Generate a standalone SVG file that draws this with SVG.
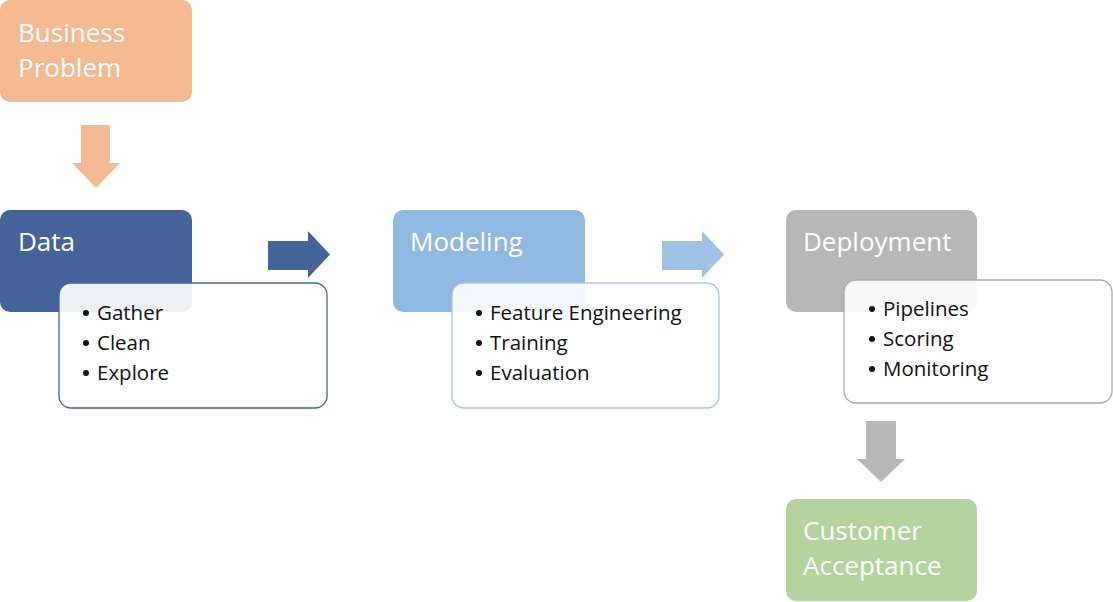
<svg xmlns="http://www.w3.org/2000/svg" width="1113" height="602" viewBox="0 0 1113 602">
<style>
.title{font-family:"Open Sans","Noto Sans",sans-serif;font-size:26px;fill:#ffffff}
.item{font-family:"Open Sans","Noto Sans",sans-serif;font-size:20.5px;fill:#111111}
.card{fill:#ffffff;fill-opacity:0.9;stroke-width:1.3}
</style>
<rect width="1113" height="602" fill="#ffffff"/>
<g id="business-problem">
<rect x="0" y="0" width="192" height="102" rx="10" fill="#F4BA91"/>
<text class="title" x="18" y="42">Business</text>
<text class="title" x="18" y="77">Problem</text>
</g>
<g id="data">
<rect x="0" y="210" width="192" height="102" rx="10" fill="#45659A"/>
<text class="title" x="18" y="251">Data</text>
<rect class="card" x="59" y="283" width="268" height="125" rx="12" stroke="#45659A"/>
<circle cx="86" cy="313" r="3" fill="#111"/>
<circle cx="86" cy="343" r="3" fill="#111"/>
<circle cx="86" cy="373" r="3" fill="#111"/>
<text class="item" x="97" y="320">Gather</text>
<text class="item" x="97" y="350">Clean</text>
<text class="item" x="97" y="380">Explore</text>
</g>
<g id="modeling">
<rect x="393" y="210" width="192" height="102" rx="10" fill="#90B9E1"/>
<text class="title" x="410" y="251">Modeling</text>
<rect class="card" x="452" y="283" width="267" height="125" rx="12" stroke="#A9C6E3"/>
<circle cx="479" cy="313" r="3" fill="#111"/>
<circle cx="479" cy="343" r="3" fill="#111"/>
<circle cx="479" cy="373" r="3" fill="#111"/>
<text class="item" x="490" y="320">Feature Engineering</text>
<text class="item" x="490" y="350">Training</text>
<text class="item" x="490" y="380">Evaluation</text>
</g>
<g id="deployment">
<rect x="786" y="210" width="191" height="102" rx="10" fill="#B7B7B7"/>
<text class="title" x="803" y="251">Deployment</text>
<rect class="card" x="844" y="280" width="268" height="123" rx="12" stroke="#AAAAAA"/>
<circle cx="872" cy="309" r="3" fill="#111"/>
<circle cx="872" cy="339" r="3" fill="#111"/>
<circle cx="872" cy="369" r="3" fill="#111"/>
<text class="item" x="883" y="316">Pipelines</text>
<text class="item" x="883" y="346">Scoring</text>
<text class="item" x="883" y="376">Monitoring</text>
</g>
<g id="customer-acceptance">
<rect x="786" y="499" width="191" height="102" rx="10" fill="#B3D59D"/>
<text class="title" x="803" y="540">Customer</text>
<text class="title" x="803" y="575">Acceptance</text>
</g>
<g id="connectors">
<polygon points="81,125 110,125 110,163 120,163 96,188 72,163 81,163" fill="#F4BA91"/>
<polygon points="268,241 308,241 308,231 330,254.5 308,278 308,270 268,270" fill="#45659A"/>
<polygon points="662,241 702,241 702,231 724,254.5 702,278 702,270 662,270" fill="#9FC1E5"/>
<polygon points="866,421 896,421 896,459 905,459 881,482 857,459 866,459" fill="#B7B7B7"/>
</g>
</svg>
